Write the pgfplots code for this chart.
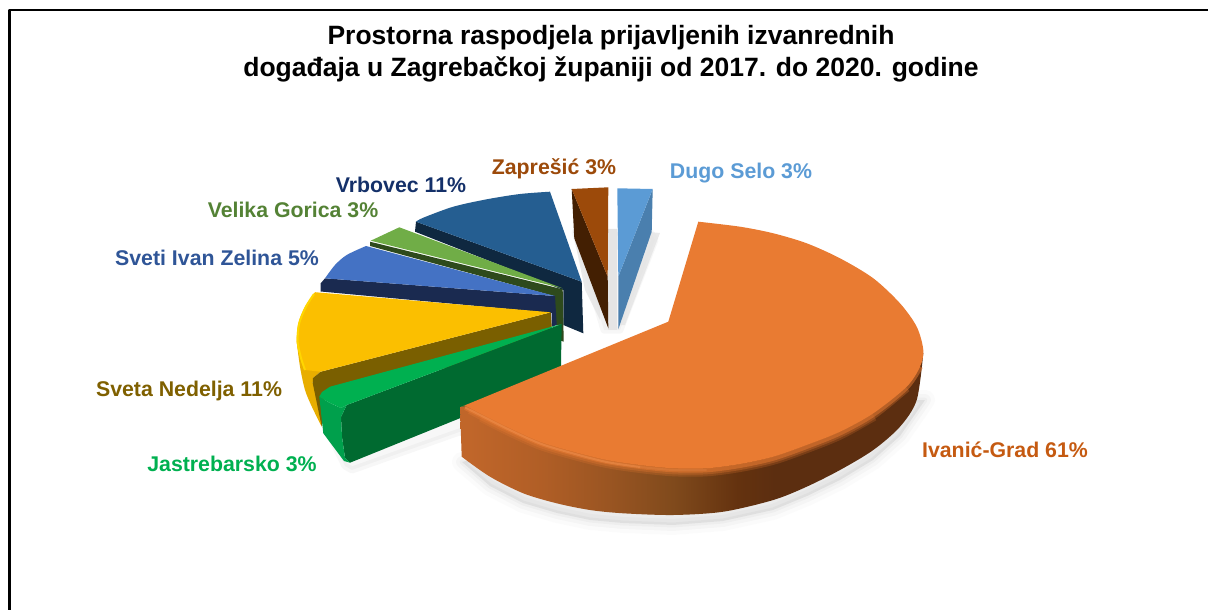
\documentclass[border=0pt]{standalone}
\usepackage{fontspec}
\setmainfont{Liberation Sans}
\usepackage{pgfplots}
\pgfplotsset{compat=1.18}
\definecolor{orTop}{HTML}{E97B32}
\definecolor{s1}{HTML}{C0662A}
\definecolor{s2}{HTML}{B05E26}
\definecolor{s3}{HTML}{9A5522}
\definecolor{s4}{HTML}{804A1C}
\definecolor{s5}{HTML}{64320F}
\definecolor{s6}{HTML}{5C2E10}
\pgfdeclarehorizontalshading{orangeside}{100bp}{color(0bp)=(s1); color(26bp)=(s1); color(34bp)=(s2); color(41bp)=(s3); color(48bp)=(s4); color(55bp)=(s5); color(59bp)=(s6); color(100bp)=(s6)}
\newcommand{\lbl}{\fontsize{21.3}{25}\selectfont\bfseries}
\begin{document}
\begin{tikzpicture}
\useasboundingbox (0,0) rectangle (1208pt,610pt);
\begin{axis}[
  at={(0,0)}, anchor=south west,
  scale only axis, width=1208pt, height=610pt,
  xmin=0, xmax=1208, ymin=0, ymax=610, y dir=reverse,
  hide axis, line join=round
]
% frame
\addplot[black, line width=2.4pt, sharp plot] coordinates {(9.5,612) (9.5,10) (1210,10)};
% soft shadows
\addplot[draw=black!60, fill=black!60, line width=20pt, opacity=.025] coordinates {(462,462) (490,486) (523,503) (557,513) (590,520) (623,523) (673,525) (723,521) (773,510) (807,496) (840,480) (873,460) (900,436) (925,400) (700,400)} -- cycle;
\addplot[draw=black!60, fill=black!60, line width=12pt, opacity=.04] coordinates {(462,462) (490,486) (523,503) (557,513) (590,520) (623,523) (673,525) (723,521) (773,510) (807,496) (840,480) (873,460) (900,436) (925,400) (700,400)} -- cycle;
\addplot[draw=black!60, fill=black!60, line width=5pt, opacity=.05] coordinates {(462,462) (490,486) (523,503) (557,513) (590,520) (623,523) (673,525) (723,521) (773,510) (807,496) (840,480) (873,460) (900,436) (925,400) (700,400)} -- cycle;
\addplot[draw=black!60, fill=black!60, line width=7pt, opacity=.05] coordinates {(325,425) (345,466) (352,470) (465,430) (460,400) (330,390)} -- cycle;
\addplot[draw=black!60, fill=black!60, line width=7pt, opacity=.05] coordinates {(575,232) (650,232) (655,240) (620,330) (604,330)} -- cycle;
% Dugo Selo
\addplot[fill=black!10, draw=none] coordinates {(608,229) (617,229) (617,330) (608,330)} -- cycle;
\addplot[fill=black!10, draw=none, opacity=.8] coordinates {(650,232) (660,233) (625,325) (620,325)} -- cycle;
\addplot[fill=black!10, draw=none, opacity=.8] coordinates {(573,232) (600,232) (600,320) (585,290)} -- cycle;
\addplot[fill=white, draw=none] coordinates {(607,187) (617,187) (617,228) (607,228)} -- cycle;
\addplot[fill={rgb,255:red,74;green,127;blue,174}, draw=none] coordinates {(652.7,189) (651.7,231.7) (618.3,329.3) (618.3,276.7)} -- cycle;
\addplot[fill={rgb,255:red,91;green,155;blue,213}, draw=none] coordinates {(617.3,188.3) (652.7,189) (618.3,276.7)} -- cycle;
% Zapresic
\addplot[fill={rgb,255:red,67;green,31;blue,2}, draw=none] coordinates {(571.7,189) (574.3,238.3) (608.3,328.3) (607.7,276.7)} -- cycle;
\addplot[fill={rgb,255:red,156;green,74;blue,10}, draw=none] coordinates {(571.7,189) (608.3,187.3) (607.7,276.7)} -- cycle;
% Vrbovec
\addplot[fill={rgb,255:red,15;green,40;blue,64}, draw=none] coordinates {(416,221.7) (581.7,281.7) (583.3,333.3) (563.3,325) (563.3,290) (415,231.7)} -- cycle;
\addplot[fill={rgb,255:red,37;green,94;blue,145}, draw=none, smooth] coordinates {(416,221.7) (423.3,217.7) (453.3,206.7) (486.7,199.3) (520,194) (550,191.7)} -- (axis cs:581.7,281.7) -- cycle;
% Velika Gorica
\addplot[fill={rgb,255:red,46;green,74;blue,28}, draw=none] coordinates {(370,241.7) (562.7,289.3) (563.7,341.7) (561,340.7) (561,325) (554,325) (554,296) (370,246)} -- cycle;
\addplot[fill={rgb,255:red,112;green,173;blue,71}, draw=none] coordinates {(370.7,240.7) (399.3,227.3) (562.7,288.3)} -- cycle;
% Sveti Ivan Zelina
\addplot[fill={rgb,255:red,26;green,42;blue,80}, draw=none] coordinates {(325,278.3) (320.7,283.3) (320.7,291.5) (551.7,313) (551.7,326.7) (556.7,325) (555,296)} -- cycle;
\addplot[fill={rgb,255:red,68;green,114;blue,196}, draw=none, smooth] coordinates {(366,246) (346.7,255) (335,265) (325,278.3)} -- (axis cs:555,296) -- cycle;
% Sveta Nedelja
\addplot[fill={rgb,255:red,232;green,174;blue,0}, draw=none, smooth] coordinates {(296.7,341.7) (300,366.7) (305,390) (312,407) (321.7,426.7)} -- (axis cs:321.7,403) -- (axis cs:312.7,383) -- (axis cs:313,378) -- (axis cs:320.7,371.7) -- cycle;
\addplot[fill={rgb,255:red,122;green,95;blue,0}, draw=none] coordinates {(320.7,371.7) (550.7,312.3) (551.7,326.7) (553,340) (323,400) (321.7,426.7) (312.7,383) (313,378)} -- cycle;
\addplot[fill={rgb,255:red,251;green,191;blue,0}, draw=none, smooth] coordinates {(315,292.2) (305,306.7) (298.3,323.3) (296.7,341.7) (300,357) (305,370)} -- (axis cs:320.7,371.7) -- (axis cs:550.7,312.3) -- cycle;
\addplot[draw={rgb,255:red,255;green,214;blue,0}, line width=2pt, smooth] coordinates {(314,294) (305.5,307.5) (299,324) (297.7,342) (301,358) (305,370)};
% Jastrebarsko
\addplot[fill={rgb,255:red,0;green,106;blue,48}, draw=none] coordinates {(346.7,405) (561.7,324) (561,363.3) (561,372) (475,412) (458,419) (350,462.7) (345,458) (342,437) (341,417)} -- cycle;
\addplot[fill={rgb,255:red,0;green,160;blue,76}, draw=none] coordinates {(319.3,396.7) (330,403) (341,408) (346.7,405) (341,417) (342,437) (345,458) (350,462.7) (344,461) (323.3,433.3)} -- cycle;
\addplot[fill={rgb,255:red,0;green,176;blue,80}, draw=none] coordinates {(319.3,396.7) (322,392) (330,386.7) (561.7,324) (346.7,405) (341,408) (330,403)} -- cycle;
% Ivanic-Grad side
\addplot[shading=orangeside, draw=none, smooth] coordinates {(461.7,456.7) (490,476.7) (523.3,493.3) (556.7,503.3) (590,510) (623.3,513.3) (673.3,515) (723.3,511.7) (773.3,500) (806.7,486.7) (840,470) (873.3,450) (900,426.7) (916.7,400) (923.3,353)} -- (axis cs:700,352) -- (axis cs:460,407.3) -- cycle;
% Ivanic-Grad top
\addplot[fill=orTop, draw=none, smooth] coordinates {(698.3,221.7) (740,226.7) (773.3,233.3) (806.7,243.3) (840,258.3) (873.3,278.3) (900,303.3) (916.7,326.7) (923.3,350) (920,366.7) (906.7,386.7) (873.3,413.3) (840,431.7) (806.7,445) (773.3,456.7) (740,464) (706.7,468.3) (673.3,468.3) (640,465) (606.7,460) (573.3,451.7) (540,441.7) (506.7,426.7) (480,413.3) (465,405.5)} -- (axis cs:460,407.3) -- (axis cs:668.3,321.7) -- cycle;
% soft bevel between the top and the side
\addplot[draw=orTop, line width=12pt, opacity=.22, smooth] coordinates {(873.3,415) (840,433.5) (806.7,447) (773.3,458.7) (740,466) (706.7,470.3) (673.3,470.3) (640,467) (606.7,462) (573.3,453.7) (540,443.7) (506.7,428.7) (482,416)};
\addplot[draw=orTop, line width=8pt, opacity=.3, smooth] coordinates {(906.7,388) (873.3,415) (840,433.5) (806.7,447) (773.3,458.7) (740,466) (706.7,470.3) (673.3,470.3) (640,467) (606.7,462) (573.3,453.7) (540,443.7) (506.7,428.7) (480,415.3) (470,410)};
\addplot[draw=orTop, line width=4pt, opacity=.5, smooth] coordinates {(921,367) (906.7,388) (873.3,415) (840,433.5) (806.7,447) (773.3,458.7) (740,466) (706.7,470.3) (673.3,470.3) (640,467) (606.7,462) (573.3,453.7) (540,443.7) (506.7,428.7) (480,415.3) (465,408)};
\addplot[draw={rgb,255:red,246;green,150;blue,84}, line width=2pt, opacity=.45, smooth] coordinates {(465,407.5) (480,415) (506.7,428.5) (540,443.5) (573.3,453.5) (606.7,462) (640,467)};
\addplot[draw={rgb,255:red,246;green,150;blue,84}, line width=2pt, opacity=.2, smooth] coordinates {(640,467) (673.3,470) (706.7,470)};
% text
\node[font=\fontsize{26.5}{32}\selectfont\bfseries, align=center, anchor=center] at (axis cs:611,53.5) {Prostorna raspodjela prijavljenih izvanrednih\\događaja u Zagrebačkoj županiji od 2017. do 2020. godine};
\node[font=\lbl, text={rgb,255:red,91;green,155;blue,213}] at (axis cs:741,173) {Dugo Selo 3\%};
\node[font=\lbl, text={rgb,255:red,156;green,74;blue,10}] at (axis cs:554,169) {Zaprešić 3\%};
\node[font=\lbl, text={rgb,255:red,20;green,48;blue,105}] at (axis cs:401,185) {Vrbovec 11\%};
\node[font=\lbl, text={rgb,255:red,84;green,130;blue,53}] at (axis cs:293,210) {Velika Gorica 3\%};
\node[font=\lbl, text={rgb,255:red,47;green,85;blue,151}] at (axis cs:217,258) {Sveti Ivan Zelina 5\%};
\node[font=\lbl, text={rgb,255:red,127;green,96;blue,0}] at (axis cs:189,391) {Sveta Nedelja 11\%};
\node[font=\lbl, text={rgb,255:red,0;green,176;blue,80}] at (axis cs:232,464) {Jastrebarsko 3\%};
\node[font=\lbl, text={rgb,255:red,197;green,90;blue,17}] at (axis cs:1005,450) {Ivanić-Grad 61\%};
\end{axis}
\end{tikzpicture}
\end{document}
